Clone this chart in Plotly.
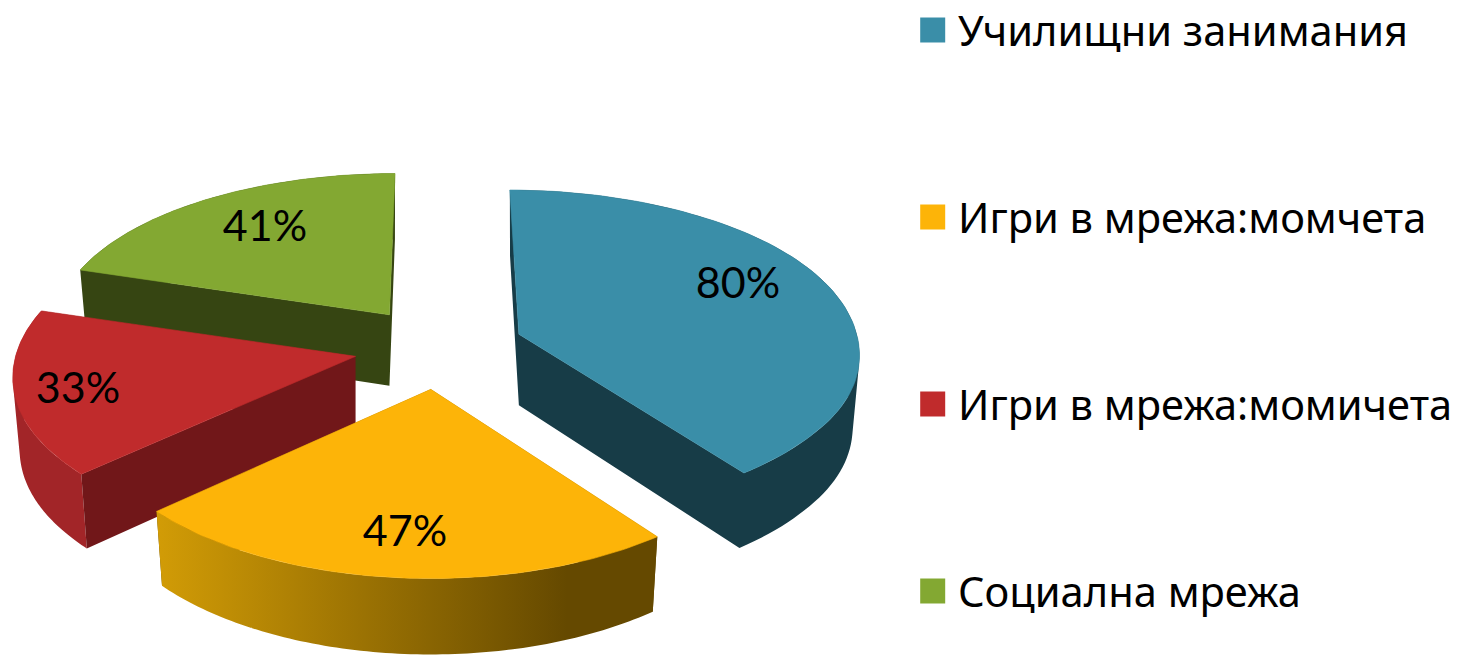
import numpy as np
import plotly.graph_objects as go

categories = ["Училищни занимания", "Игри в мрежа:момчета", "Игри в мрежа:момичета", "Социална мрежа"]
values = [80, 47, 33, 41]
value_labels = ["80%", "47%", "33%", "41%"]

# colours
top_col = ["#3A8EA8", "#FDB408", "#C02B2C", "#83A832"]
front_col = ["#173C47", "#654900", "#711719", "#364512"]
outer_col = ["#173C47", None, "#A22528", "#364512"]

# projection of the tilted pie onto the page (pixel axes)
CX, CY = 439, 347
AX, BY, K = 340, 164.7, 0.128
EXPLODE = 0.25
DEPTH = 71


def project(X, Y):
    s = 1 / (1 + K * Y)
    return AX * X * s, -BY * Y * s


def drop(Y):
    return DEPTH * (1 - 0.07 * np.asarray(Y))


fig = go.Figure()


def poly(xs, ys, color=None, gradient=None, edge=0.0):
    if gradient:
        kw = dict(fillgradient=gradient, line=dict(width=0))
    else:
        kw = dict(fillcolor=color, line=dict(width=edge, color=color))
    fig.add_trace(go.Scatter(x=xs, y=ys, mode="lines", fill="toself",
                             hoverinfo="skip", showlegend=False, **kw))


def quad(qx, qy):
    """One consistently wound closed quad, ended by a gap."""
    area = sum(qx[k] * qy[(k + 1) % 4] - qx[(k + 1) % 4] * qy[k] for k in range(4))
    if area < 0:
        qx, qy = qx[::-1], qy[::-1]
    return list(qx) + [qx[0], None], list(qy) + [qy[0], None]


def wall(tx, ty, bx, by):
    """Outer wall swept as quads, so the silhouette stays tangent to both rims."""
    xs, ys = [], []
    for j in range(len(tx) - 1):
        a, b = quad([tx[j], tx[j + 1], bx[j + 1], bx[j]], [ty[j], ty[j + 1], by[j + 1], by[j]])
        xs += a
        ys += b
    return xs, ys


total = sum(values)
edges = np.concatenate([[0], np.cumsum(values)]) / total * 2 * np.pi
draw_order = [3, 2, 0, 1]

for i in draw_order:
    a0, a1 = edges[i], edges[i + 1]
    mid = (a0 + a1) / 2
    ox, oy = project(EXPLODE * np.sin(mid), EXPLODE * np.cos(mid))
    px, py = CX + ox, CY + oy
    t = np.linspace(a0, a1, 90)
    X, Y = np.sin(t), np.cos(t)
    ax_, ay_ = project(X, Y)
    # far rim leans to the vanishing point; each rim scales with how near the wedge sits
    ax_ = ax_ * (1 + 0.0005 * min(oy, 0))
    ax_ = ax_ - ox * 0.113 * np.clip(Y, 0, 1) ** 3
    near = 0.957 + 0.00105 * oy
    ay_ = ay_ * (1 + (near - 1) * np.clip(-Y / 0.6, 0, 1))
    ay_ = ay_ * (1 + 0.001 * oy * np.clip(Y, 0, 1))
    tx, ty = px + ax_, py + ay_
    bx, by = px + ax_ * 0.98, py + ay_ + drop(Y)
    d0 = DEPTH
    # radial faces
    r0x, r0y = quad([px, tx[0], bx[0], px], [py, ty[0], by[0], py + d0])
    r1x, r1y = quad([px, tx[-1], bx[-1], px], [py, ty[-1], by[-1], py + d0])
    # outer wall
    wx, wy = wall(tx, ty, bx, by)
    if outer_col[i] is None:
        poly(r0x + r1x, r0y + r1y, front_col[i])
        grad = dict(type="horizontal",
                    colorscale=[[0, "#D29C06"], [0.82, "#654900"], [1, "#654900"]],
                    start=float(min(tx.min(), bx.min())), stop=float(max(tx.max(), bx.max())))
        poly(wx, wy, gradient=grad)
    elif outer_col[i] == front_col[i]:
        poly(r0x + r1x + wx, r0y + r1y + wy, front_col[i])
    else:
        poly(wx, wy, outer_col[i])
        poly(r0x + r1x, r0y + r1y, front_col[i])
    # top face
    poly(np.concatenate([[px], tx, [px]]), np.concatenate([[py], ty, [py]]), top_col[i], edge=0.6)

label_x = [738, 405, 78, 265]
label_y = [287, 535, 392, 230]
fig.add_trace(go.Scatter(x=label_x, y=label_y, mode="text", text=value_labels,
                         textposition="middle center", hoverinfo="skip", showlegend=False,
                         textfont=dict(family="Lato", size=43, color="#000000")))

legend_x = [932.7] * 4
legend_y = [30, 217, 404, 591]
text_y = [36, 223, 410, 597]
fig.add_trace(go.Scatter(x=legend_x, y=legend_y, mode="markers", hoverinfo="skip", showlegend=False,
                         marker=dict(symbol="square", size=25, color=top_col, line=dict(width=0))))
fig.add_trace(go.Scatter(x=[958] * 4, y=text_y, mode="text", text=categories,
                         textposition="middle right", hoverinfo="skip", showlegend=False,
                         textfont=dict(family="Noto Sans", size=41.6, color="#000000")))

fig.update_layout(width=1465, height=655, margin=dict(l=0, r=0, t=0, b=0),
                  paper_bgcolor="white", plot_bgcolor="white",
                  xaxis=dict(range=[0, 1465], visible=False, fixedrange=True),
                  yaxis=dict(range=[655, 0], visible=False, fixedrange=True))
fig.write_html("out.html", config=dict(displayModeBar=False),
               post_script="document.body.style.margin='0';document.body.style.overflow='hidden';")
